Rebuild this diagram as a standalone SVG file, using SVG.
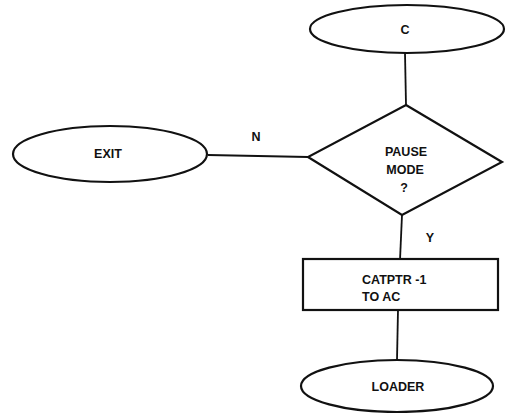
<svg xmlns="http://www.w3.org/2000/svg" width="507" height="413" viewBox="0 0 507 413">
<style>
.s{fill:#fff;stroke:#111;stroke-width:2.2}
.c{fill:none;stroke:#111;stroke-width:1.8}
.t{font-family:"Liberation Sans",Arial,sans-serif;font-weight:bold;font-size:12.5px;fill:#111}
.m{text-anchor:middle}
</style>
<rect width="507" height="413" fill="#fff"/>
<g id="connectors">
<line class="c" x1="405" y1="53" x2="406" y2="105"/>
<line class="c" x1="208" y1="155" x2="308" y2="157"/>
<line class="c" x1="402" y1="215" x2="400" y2="260"/>
<line class="c" x1="398" y1="310" x2="397" y2="360"/>
<text class="t m" x="256" y="141">N</text>
<text class="t m" x="430" y="242">Y</text>
</g>
<g id="C">
<ellipse class="s" cx="407" cy="29" rx="97" ry="24"/>
<text class="t m" x="405" y="34">C</text>
</g>
<g id="pause">
<polygon class="s" points="406,105 502,162 402,215 308,157"/>
<text class="t m" x="406" y="156">PAUSE</text>
<text class="t m" x="405" y="174">MODE</text>
<text class="t m" x="404" y="192">?</text>
</g>
<g id="exit">
<ellipse class="s" cx="110" cy="154" rx="97" ry="28"/>
<text class="t m" x="108" y="158">EXIT</text>
</g>
<g id="catptr">
<rect class="s" x="303" y="259" width="195" height="51"/>
<text class="t" x="362" y="284">CATPTR -1</text>
<text class="t" x="362" y="301">TO AC</text>
</g>
<g id="loader">
<ellipse class="s" cx="397" cy="386" rx="96" ry="26"/>
<text class="t m" x="398" y="391">LOADER</text>
</g>
</svg>
